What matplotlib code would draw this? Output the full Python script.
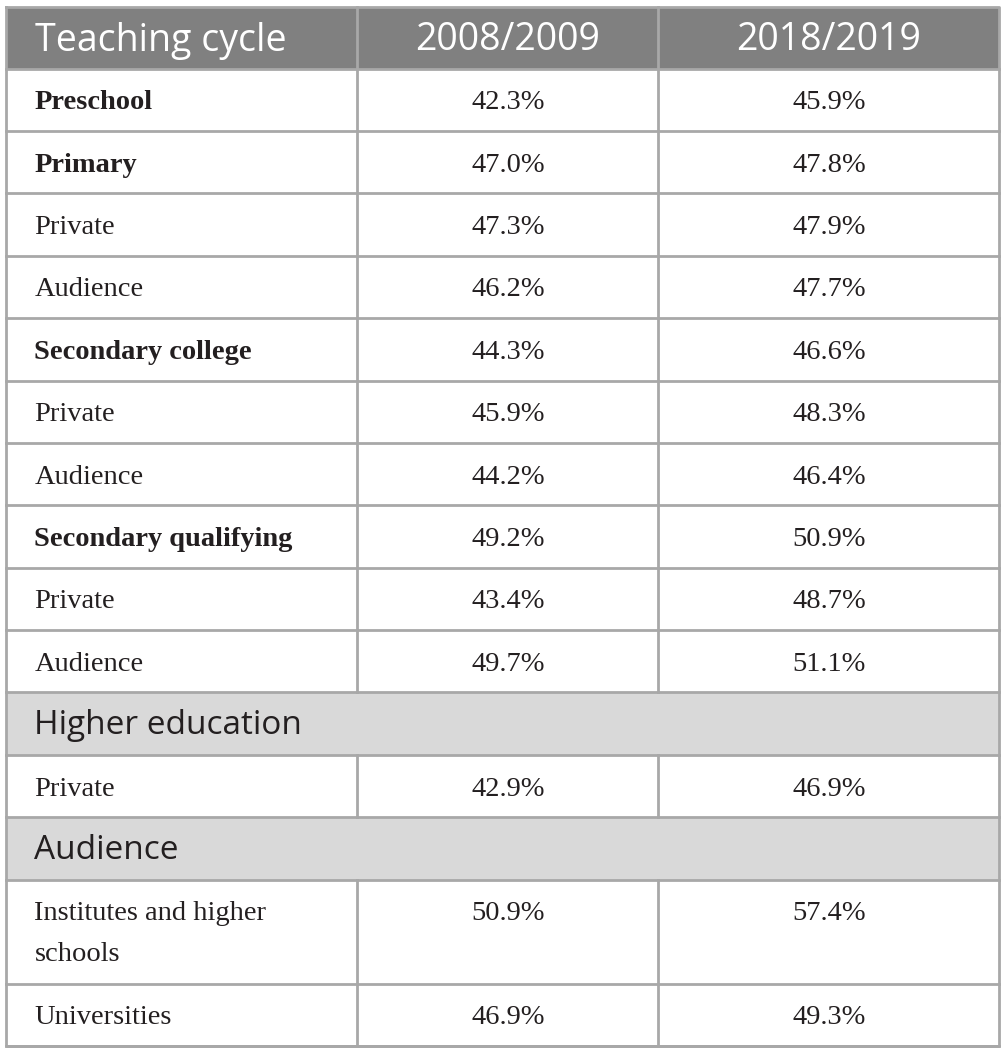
import matplotlib

matplotlib.use('Agg')
import matplotlib.pyplot as plt
from matplotlib.patches import Rectangle

# table content
header = ['Teaching cycle', '2008/2009', '2018/2019']
labels = ['Preschool', 'Primary', 'Private', 'Audience', 'Secondary college', 'Private', 'Audience',
          'Secondary qualifying', 'Private', 'Audience', 'Higher education', 'Private', 'Audience',
          'Institutes and higher\nschools', 'Universities']
# b = bold row, n = normal row, s = section row spanning all columns
kinds = ['b', 'b', 'n', 'n', 'b', 'n', 'n', 'b', 'n', 'n', 's', 'n', 's', 'n', 'n']
vals_2008 = ['42.3%', '47.0%', '47.3%', '46.2%', '44.3%', '45.9%', '44.2%', '49.2%', '43.4%', '49.7%',
             '', '42.9%', '', '50.9%', '46.9%']
vals_2018 = ['45.9%', '47.8%', '47.9%', '47.7%', '46.6%', '48.3%', '46.4%', '50.9%', '48.7%', '51.1%',
             '', '46.9%', '', '57.4%', '49.3%']

# geometry in pixels
W, H = 1006, 1051
x_left, x_c1, x_c2, x_right = 6.5, 357.5, 658.5, 999.5
y_top, y_head = 6.5, 68.5
row_h = 62.4
tall_h = 104
line_gap = 41

line_col = '#a8a8a8'
head_bg = '#808080'
sect_bg = '#d9d9d9'
text_col = '#231f20'
serif = ['Liberation Serif', 'DejaVu Serif']
sans = ['Open Sans', 'DejaVu Sans']
fs_head = 27
fs_sans = 24
fs_serif = 20.5

fig = plt.figure(figsize=(W / 100, H / 100), dpi=100)
ax = fig.add_axes([0, 0, 1, 1])
ax.set_xlim(0, W)
ax.set_ylim(H, 0)
ax.axis('off')

# header
ax.add_patch(Rectangle((x_left, y_top), x_right - x_left, y_head - y_top, facecolor=head_bg, edgecolor='none'))
hy = (y_top + y_head) / 2 + 3
ax.text(x_left + 29, hy, header[0], color='white', fontsize=fs_head, family=sans, ha='left', va='center')
ax.text((x_c1 + x_c2) / 2, hy, header[1], color='white', fontsize=fs_head, family=sans, ha='center', va='center')
ax.text((x_c2 + x_right) / 2, hy, header[2], color='white', fontsize=fs_head, family=sans, ha='center', va='center')
ax.plot([x_c1, x_c1], [y_top, y_head], color=line_col, lw=2)
ax.plot([x_c2, x_c2], [y_top, y_head], color=line_col, lw=2)

y = y_head
for lab, kind, v1, v2 in zip(labels, kinds, vals_2008, vals_2018):
    h = tall_h if '\n' in lab else row_h
    if kind == 's':
        ax.add_patch(Rectangle((x_left, y), x_right - x_left, h, facecolor=sect_bg, edgecolor='none'))
        ax.text(x_left + 28, y + h / 2 + 2, lab, color=text_col, fontsize=fs_sans, family=sans,
                ha='left', va='center')
    else:
        ty = y + row_h / 2 + 3
        weight = 'bold' if kind == 'b' else 'normal'
        for i, part in enumerate(lab.split('\n')):
            ax.text(x_left + 28, ty + i * line_gap, part, color=text_col, fontsize=fs_serif,
                    family=serif, weight=weight, ha='left', va='center')
        ax.text((x_c1 + x_c2) / 2, ty, v1, color=text_col, fontsize=fs_serif, family=serif,
                ha='center', va='center')
        ax.text((x_c2 + x_right) / 2, ty, v2, color=text_col, fontsize=fs_serif, family=serif,
                ha='center', va='center')
        ax.plot([x_c1, x_c1], [y, y + h], color=line_col, lw=2)
        ax.plot([x_c2, x_c2], [y, y + h], color=line_col, lw=2)
    ax.plot([x_left, x_right], [y, y], color=line_col, lw=2)
    y += h

ax.plot([x_left, x_right], [y, y], color=line_col, lw=2)
# outer frame
ax.plot([x_left, x_right, x_right, x_left, x_left], [y_top, y_top, y, y, y_top], color=line_col, lw=2)

fig.savefig('out.png', dpi=100)
